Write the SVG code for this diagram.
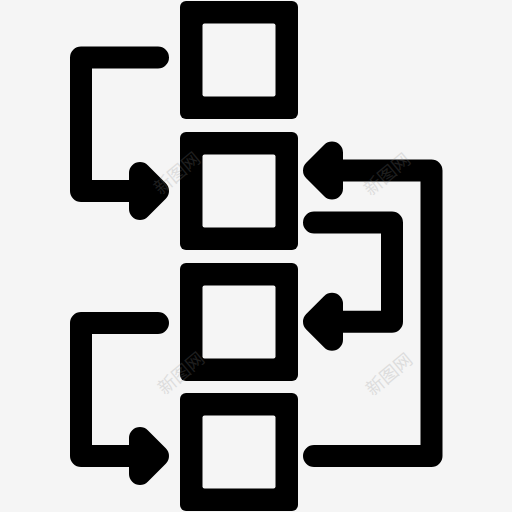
<svg xmlns="http://www.w3.org/2000/svg" width="512" height="512" viewBox="0 0 512 512">
  <style>
    .box{fill:#000}
    .hole{fill:#f5f5f5}
    .line{fill:none;stroke:#000;stroke-width:22;stroke-linecap:round;stroke-linejoin:round}
    .head{fill:#000;stroke:#000;stroke-width:22;stroke-linejoin:round}
    .wm{font-family:"Noto Sans CJK SC","Noto Sans",sans-serif;font-size:18px;fill:#8a8a8a;opacity:0.22;text-anchor:middle;dominant-baseline:central}
  </style>
  <rect width="512" height="512" fill="#f5f5f5"/>
  <g id="node1">
    <rect class="box" x="180" y="1" width="118" height="118" rx="6"/>
    <rect class="hole" x="202.5" y="23.5" width="73" height="73" rx="2"/>
  </g>
  <g id="node2">
    <rect class="box" x="180" y="132" width="118" height="118" rx="6"/>
    <rect class="hole" x="202.5" y="154.5" width="73" height="73" rx="2"/>
  </g>
  <g id="node3">
    <rect class="box" x="180" y="263" width="118" height="118" rx="6"/>
    <rect class="hole" x="202.5" y="285.5" width="73" height="73" rx="2"/>
  </g>
  <g id="node4">
    <rect class="box" x="180" y="393" width="118" height="118" rx="6"/>
    <rect class="hole" x="202.5" y="415.5" width="73" height="73" rx="2"/>
  </g>
  <g id="connectors">
    <path class="line" d="M158 57.5H81V191H142"/>
    <polygon class="head" points="140,173 158,191 140,209"/>
    <path class="line" d="M158 323H81V456H142"/>
    <polygon class="head" points="140,438 158,456 140,474"/>
    <path class="line" d="M330 170.5H431.5V456H314"/>
    <polygon class="head" points="332,152.5 314,170.5 332,188.5"/>
    <path class="line" d="M314 222.5H392V321.7H330"/>
    <polygon class="head" points="332,303.7 314,321.7 332,339.7"/>
  </g>
  <g id="watermarks">
    <text class="wm" transform="translate(176,172) rotate(-40)">新图网</text>
    <text class="wm" transform="translate(386,173) rotate(-40)">新图网</text>
    <text class="wm" transform="translate(180,372) rotate(-40)">新图网</text>
    <text class="wm" transform="translate(388,373) rotate(-40)">新图网</text>
  </g>
</svg>
